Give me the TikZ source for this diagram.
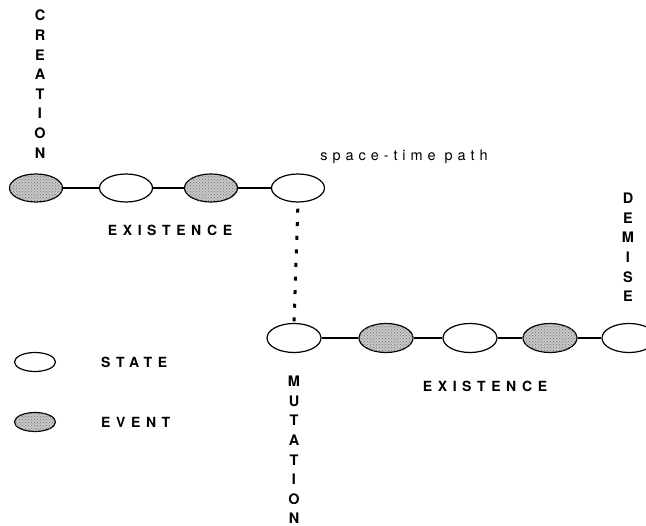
\documentclass[tikz,border=0pt]{standalone}
\usepackage{fontspec}
\usetikzlibrary{shapes.geometric,patterns}
\newfontfamily\lblfont[LetterSpace=40]{TeX Gyre Heros}
\newfontfamily\pathfont[LetterSpace=34]{TeX Gyre Heros}
\newfontfamily\vertfont{TeX Gyre Heros}
\tikzset{
  stateell/.style={ellipse, draw, line width=1.2pt, fill=white, inner sep=0pt, minimum width=53pt, minimum height=28pt},
  eventell/.style={stateell, fill=black!22, postaction={pattern=crosshatch dots, pattern color=black!55}},
  legstate/.style={stateell, minimum width=41pt, minimum height=19pt},
  legevent/.style={eventell, minimum width=41pt, minimum height=19pt},
  link/.style={line width=2.2pt},
  dotlink/.style={line width=3pt, dash pattern=on 4pt off 9.6pt, dash phase=7.6pt},
  lbl/.style={font=\lblfont\bfseries\fontsize{14}{16}\selectfont, inner sep=0pt},
  pathlbl/.style={font=\pathfont\fontsize{14.5}{16}\selectfont, inner sep=0pt},
  vlbl/.style={font=\vertfont\bfseries\fontsize{14.5}{19.6}\selectfont, align=center, inner sep=0pt, anchor=north}
}
\begin{document}
\begin{tikzpicture}[x=1pt, y=-1pt]
\useasboundingbox (0,0) rectangle (646,526);
\clip (0,0) rectangle (646,526);
% top row
\node[eventell] (t1) at (36,188) {};
\node[stateell] (t2) at (126,188) {};
\node[eventell] (t3) at (211,188) {};
\node[stateell] (t4) at (298,188) {};
% bottom row
\node[stateell, minimum height=29pt, minimum width=54pt] (b1) at (294,338) {};
\node[eventell, minimum height=29pt, minimum width=54pt] (b2) at (386,338) {};
\node[stateell, minimum height=29pt, minimum width=54pt] (b3) at (470,338) {};
\node[eventell, minimum height=29pt, minimum width=54pt] (b4) at (550,338) {};
\node[stateell, minimum height=29pt, minimum width=54pt] (b5) at (629,338) {};
% links
\draw[link] (t1) -- (t2);
\draw[link] (t2) -- (t3);
\draw[link] (t3) -- (t4);
\draw[link] (b1) -- (b2);
\draw[link] (b2) -- (b3);
\draw[link] (b3) -- (b4);
\draw[link] (b4) -- (b5);
\draw[dotlink] (t4.south) -- (b1.north);
% labels
\node[vlbl] (creation) at (40,10) {C\\R\\E\\A\\T\\I\\O\\N};
\node[vlbl] (demise) at (628,193) {D\\E\\M\\I\\S\\E};
\node[vlbl] (mutation) at (294,376) {M\\U\\T\\A\\T\\I\\O\\N};
\node[lbl] (ex1) at (170,230) {EXISTENCE};
\node[lbl] (ex2) at (485,386) {EXISTENCE};
\node[pathlbl] (stp) at (404,157) {space-time path};
% legend
\node[legstate] (ls) at (35,362) {};
\node[legevent] (le) at (35,422) {};
\node[lbl, anchor=west] (lst) at (101,362) {STATE};
\node[lbl, anchor=west] (lev) at (101,422) {EVENT};
\end{tikzpicture}
\end{document}
